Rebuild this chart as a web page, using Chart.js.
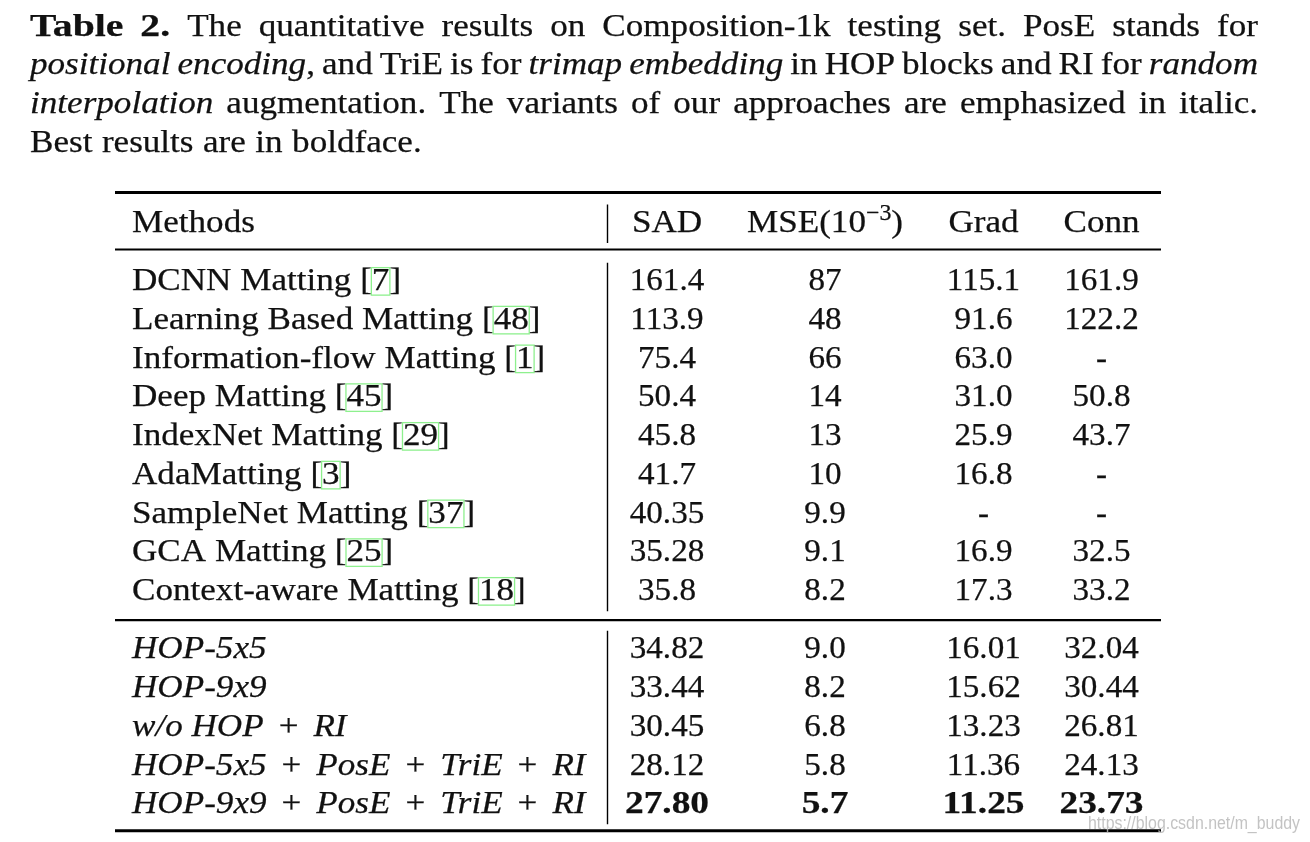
<!DOCTYPE html>
<html><head><meta charset="utf-8">
<script src="https://cdn.jsdelivr.net/npm/chart.js@4.4.0/dist/chart.umd.min.js"></script>
<style>html,body{margin:0;padding:0;background:#fff}#wrap{width:1310px;height:842px;position:relative}</style>
</head><body><div id="wrap"><canvas id="c"></canvas></div>
<script>
// ---------------- data ----------------
const columns = ['Methods', 'SAD', 'MSE', 'Grad', 'Conn'];
const methods = ['DCNN Matting', 'Learning Based Matting', 'Information-flow Matting', 'Deep Matting',
  'IndexNet Matting', 'AdaMatting', 'SampleNet Matting', 'GCA Matting', 'Context-aware Matting',
  'HOP-5x5', 'HOP-9x9', 'w/o HOP + RI', 'HOP-5x5 + PosE + TriE + RI', 'HOP-9x9 + PosE + TriE + RI'];
const citations = ['7', '48', '1', '45', '29', '3', '37', '25', '18', null, null, null, null, null];
const rowGroup = [0, 0, 0, 0, 0, 0, 0, 0, 0, 1, 1, 1, 1, 1]; // 1 = our variants (italic)
const sad  = ['161.4', '113.9', '75.4', '50.4', '45.8', '41.7', '40.35', '35.28', '35.8', '34.82', '33.44', '30.45', '28.12', '27.80'];
const mse  = ['87', '48', '66', '14', '13', '10', '9.9', '9.1', '8.2', '9.0', '8.2', '6.8', '5.8', '5.7'];
const grad = ['115.1', '91.6', '63.0', '31.0', '25.9', '16.8', '-', '16.9', '17.3', '16.01', '15.62', '13.23', '11.36', '11.25'];
const conn = ['161.9', '122.2', '-', '50.8', '43.7', '-', '-', '32.5', '33.2', '32.04', '30.44', '26.81', '24.13', '23.73'];
const bestRow = 13;
const captionText = [
  [['b', 'Table 2.'], ['r', ' The quantitative results on Composition-1k testing set. PosE stands for']],
  [['i', 'positional encoding'], ['r', ', and TriE is for '], ['i', 'trimap embedding'], ['r', ' in HOP blocks and RI for '], ['i', 'random']],
  [['i', 'interpolation'], ['r', ' augmentation. The variants of our approaches are emphasized in italic.']],
  [['r', 'Best results are in boldface.']]
];
const watermark = 'https://blog.csdn.net/m_buddy';

// ---------------- layout / style ----------------
const W = 1310, H = 842;
const COL_X = [132, 667, 825, 983.5, 1101.5];
const ROW_PITCH = 38.75, HEADER_BASE = 232;
const RULE_X0 = 115, RULE_X1 = 1161, VSEP_X = 607.5;
const FS = 32.5, FAM = '"Liberation Serif"';
const ST = {
  r:  { font: `${FS}px ${FAM}`, sx: 1.08 },
  i:  { font: `italic ${FS}px ${FAM}`, sx: 1.08 },
  b:  { font: `bold ${FS}px ${FAM}`, sx: 1.22 },
  n:  { font: `${FS}px ${FAM}`, sx: 1.02 },
  nb: { font: `bold ${FS}px ${FAM}`, sx: 1.15 },
  sup:{ font: `${FS * 0.7}px ${FAM}`, sx: 1.05 }
};
const INK = '#111';
function slotOf(i) {
  const first1 = rowGroup.indexOf(1);
  return rowGroup[i] === 0 ? 1.5 + i : 1.5 + (first1 - 1) + 1.5 + (i - first1);
}
const valueCols = [null, sad, mse, grad, conn];

function runW(ctx, r) { ctx.font = r.s.font; return ctx.measureText(r.t).width * r.s.sx + (r.padL || 0) + (r.padR || 0); }
function drawRun(ctx, r, x, y) {
  ctx.save(); ctx.font = r.s.font; ctx.translate(x + (r.padL || 0), y + (r.dy || 0)); ctx.scale(r.s.sx, 1);
  ctx.textAlign = 'left'; ctx.textBaseline = 'alphabetic'; ctx.fillStyle = INK; ctx.fillText(r.t, 0, 0);
  ctx.strokeStyle = INK; ctx.lineWidth = 0.25; ctx.lineJoin = 'round'; ctx.strokeText(r.t, 0, 0);
  ctx.restore();
}
function drawRuns(ctx, runs, x, y, align) {
  const ws = runs.map(r => runW(ctx, r));
  const tot = ws.reduce((a, b) => a + b, 0);
  let cx = align === 'center' ? x - tot / 2 : x;
  runs.forEach((r, k) => {
    drawRun(ctx, r, cx, y);
    if (r.box) {
      ctx.save(); ctx.strokeStyle = '#8ef08e'; ctx.lineWidth = 1.3;
      ctx.strokeRect(cx - 0.5, y - 22.5, ws[k] + 1, 27.5); ctx.restore();
    }
    cx += ws[k];
  });
}

const tablePlugin = {
  id: 'tablePlugin',
  afterDatasetsDraw(chart) {
    const ctx = chart.ctx, xs = chart.scales.x, ys = chart.scales.y;
    // caption (justified)
    captionText.forEach((line, li) => {
      const words = []; let cur = [];
      line.forEach(([s, t]) => {
        const parts = t.split(' ');
        parts.forEach((p, pi) => {
          if (pi > 0) { if (cur.length) words.push(cur); cur = []; }
          if (p.length) cur.push({ s: ST[s], t: p });
        });
      });
      if (cur.length) words.push(cur);
      const ww = words.map(w => w.reduce((a, r) => a + runW(ctx, r), 0));
      const sum = ww.reduce((a, b) => a + b, 0);
      const x0 = 30, x1 = 1258;
      ctx.font = ST.r.font;
      const gap = li < captionText.length - 1 ? (x1 - x0 - sum) / (words.length - 1) : ctx.measureText(' ').width * ST.r.sx * 1.08;
      const y = 35.5 + li * 38.7;
      let x = x0;
      words.forEach((w, k) => { drawRuns(ctx, w, x, y, 'left'); x += ww[k] + gap; });
    });

    const py = s => ys.getPixelForValue(s);
    const px = v => xs.getPixelForValue(v);
    // rules
    ctx.save(); ctx.strokeStyle = '#000';
    const hline = (yy, lw) => { ctx.lineWidth = lw; ctx.beginPath(); ctx.moveTo(px(RULE_X0), yy); ctx.lineTo(px(RULE_X1), yy); ctx.stroke(); };
    const lastG0 = rowGroup.lastIndexOf(0), firstG1 = rowGroup.indexOf(1), last = rowGroup.length - 1;
    hline(py(0) - 39.5, 3);
    hline(py(0) + 17.5, 1.8);
    hline((py(slotOf(lastG0)) + py(slotOf(firstG1))) / 2 - 9, 2.2);
    hline(py(slotOf(last)) + 17.5, 3);
    // vertical separator segments
    const vseg = (a, b) => { ctx.lineWidth = 1.4; ctx.beginPath(); ctx.moveTo(px(VSEP_X), a); ctx.lineTo(px(VSEP_X), b); ctx.stroke(); };
    vseg(py(0) - 27.5, py(0) + 11);
    vseg(py(slotOf(0)) - 27.5, py(slotOf(lastG0)) + 11);
    vseg(py(slotOf(firstG1)) - 27.5, py(slotOf(last)) + 11);
    ctx.restore();

    // header
    const hy = py(0);
    drawRuns(ctx, [{ s: ST.r, t: columns[0] }], px(COL_X[0]), hy, 'left');
    drawRuns(ctx, [{ s: ST.r, t: 'SAD' }], px(COL_X[1]), hy, 'center');
    drawRuns(ctx, [{ s: ST.r, t: 'MSE(10' }, { s: ST.sup, t: '\u22123', dy: -12.5 }, { s: ST.r, t: ')' }], px(COL_X[2]), hy, 'center');
    drawRuns(ctx, [{ s: ST.r, t: columns[3] }], px(COL_X[3]), hy, 'center');
    drawRuns(ctx, [{ s: ST.r, t: columns[4] }], px(COL_X[4]), hy, 'center');

    // cells from dataset elements
    chart.data.datasets.forEach((ds, c) => {
      const meta = chart.getDatasetMeta(c);
      meta.data.forEach((el, i) => {
        const x = el.x, y = el.y;
        if (c === 0) {
          let runs;
          if (rowGroup[i] === 1) {
            runs = [];
            methods[i].split(' + ').forEach((p, k) => {
              if (k > 0) runs.push({ s: ST.r, t: '+', padL: 15, padR: 15 });
              runs.push({ s: ST.i, t: p });
            });
          } else {
            runs = [{ s: ST.r, t: methods[i] + ' [' }, { s: ST.r, t: citations[i], box: true }, { s: ST.r, t: ']' }];
          }
          drawRuns(ctx, runs, x, y, 'left');
        } else {
          drawRuns(ctx, [{ s: i === bestRow ? ST.nb : ST.n, t: valueCols[c][i] }], x, y, 'center');
        }
      });
    });

    // watermark
    ctx.save();
    ctx.font = '18px "Liberation Sans"';
    const tw = ctx.measureText(watermark).width;
    ctx.translate(1088, 829); ctx.scale(212 / tw, 1);
    ctx.fillStyle = 'rgba(185,185,185,0.85)'; ctx.fillText(watermark, 0, 0);
    ctx.restore();
  }
};

const datasets = columns.map((name, c) => ({
  label: name,
  data: methods.map((m, i) => ({ x: COL_X[c], y: slotOf(i) })),
  pointRadius: 0, pointHoverRadius: 0, showLine: false
}));

new Chart(document.getElementById('c'), {
  type: 'scatter',
  data: { datasets },
  options: {
    responsive: true, maintainAspectRatio: false, animation: false,
    events: [],
    layout: { padding: 0 },
    plugins: { legend: { display: false }, tooltip: { enabled: false }, title: { display: false } },
    scales: {
      x: { type: 'linear', display: false, min: 0, max: W },
      y: { type: 'linear', display: false, reverse: true, min: -HEADER_BASE / ROW_PITCH, max: (H - HEADER_BASE) / ROW_PITCH }
    }
  },
  plugins: [tablePlugin]
});
</script>
</body></html>
